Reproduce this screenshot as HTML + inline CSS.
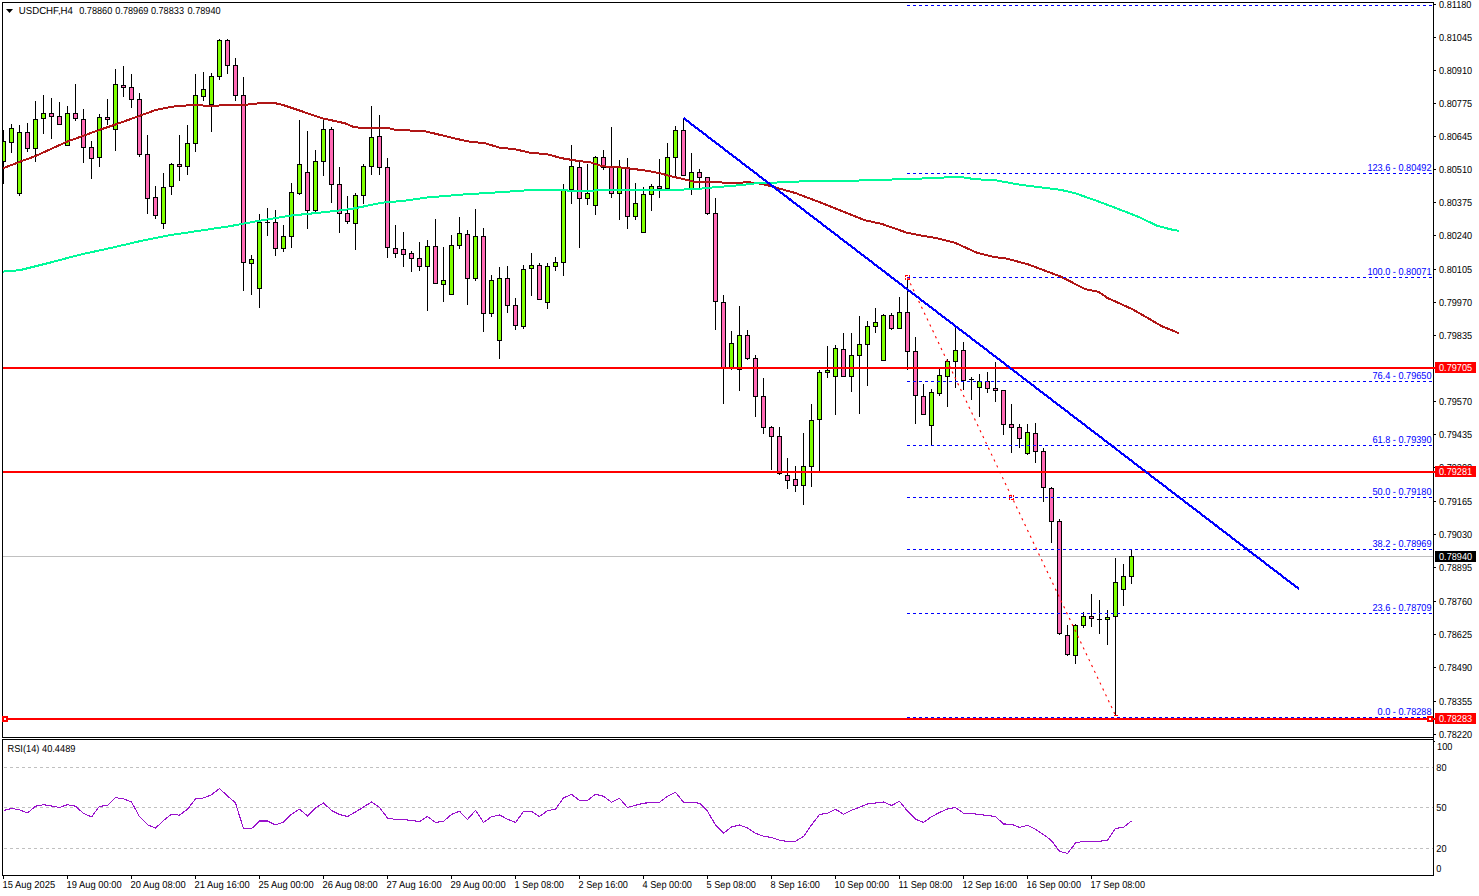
<!DOCTYPE html><html><head><meta charset="utf-8"><title>USDCHF H4</title>
<style>html,body{margin:0;padding:0;background:#fff;}body{width:1479px;height:896px;overflow:hidden;position:relative;font-family:"Liberation Sans",sans-serif;}svg{position:absolute;left:0;top:0;}text{text-rendering:geometricPrecision;font-family:"Liberation Sans",sans-serif;font-size:10.17px;}</style></head><body>
<svg width="1479" height="896" viewBox="0 0 1479 896">
<rect x="0" y="0" width="1479" height="896" fill="#fff"/>
<defs><clipPath id="c"><rect x="3" y="3" width="1430" height="734"/></clipPath></defs>
<g shape-rendering="crispEdges">
<rect x="3" y="556" width="1430" height="1" fill="#c0c0c0"/>
</g>
<g clip-path="url(#c)">
<g shape-rendering="crispEdges">
<rect x="3" y="130" width="1" height="54" fill="#000"/>
<rect x="1" y="141" width="5" height="21" fill="#000"/>
<rect x="2" y="142" width="3" height="19" fill="#7FFF00"/>
<rect x="11" y="124" width="1" height="29" fill="#000"/>
<rect x="9" y="128" width="5" height="15" fill="#000"/>
<rect x="10" y="129" width="3" height="13" fill="#7FFF00"/>
<rect x="19" y="125" width="1" height="71" fill="#000"/>
<rect x="17" y="132" width="5" height="62" fill="#000"/>
<rect x="18" y="133" width="3" height="60" fill="#7FFF00"/>
<rect x="27" y="123" width="1" height="29" fill="#000"/>
<rect x="25" y="132" width="5" height="17" fill="#000"/>
<rect x="26" y="133" width="3" height="15" fill="#FF69B4"/>
<rect x="35" y="101" width="1" height="61" fill="#000"/>
<rect x="33" y="119" width="5" height="30" fill="#000"/>
<rect x="34" y="120" width="3" height="28" fill="#7FFF00"/>
<rect x="43" y="95" width="1" height="39" fill="#000"/>
<rect x="41" y="113" width="5" height="6" fill="#000"/>
<rect x="42" y="114" width="3" height="4" fill="#7FFF00"/>
<rect x="51" y="98" width="1" height="41" fill="#000"/>
<rect x="49" y="113" width="5" height="4" fill="#000"/>
<rect x="50" y="114" width="3" height="2" fill="#FF69B4"/>
<rect x="59" y="102" width="1" height="23" fill="#000"/>
<rect x="57" y="116" width="5" height="9" fill="#000"/>
<rect x="58" y="117" width="3" height="7" fill="#FF69B4"/>
<rect x="67" y="106" width="1" height="40" fill="#000"/>
<rect x="65" y="113" width="5" height="33" fill="#000"/>
<rect x="66" y="114" width="3" height="31" fill="#7FFF00"/>
<rect x="75" y="84" width="1" height="37" fill="#000"/>
<rect x="73" y="113" width="5" height="6" fill="#000"/>
<rect x="74" y="114" width="3" height="4" fill="#FF69B4"/>
<rect x="83" y="109" width="1" height="54" fill="#000"/>
<rect x="81" y="119" width="5" height="29" fill="#000"/>
<rect x="82" y="120" width="3" height="27" fill="#FF69B4"/>
<rect x="91" y="141" width="1" height="38" fill="#000"/>
<rect x="89" y="147" width="5" height="12" fill="#000"/>
<rect x="90" y="148" width="3" height="10" fill="#FF69B4"/>
<rect x="99" y="114" width="1" height="53" fill="#000"/>
<rect x="97" y="117" width="5" height="41" fill="#000"/>
<rect x="98" y="118" width="3" height="39" fill="#7FFF00"/>
<rect x="107" y="99" width="1" height="26" fill="#000"/>
<rect x="105" y="117" width="5" height="3" fill="#000"/>
<rect x="106" y="118" width="3" height="1" fill="#FF69B4"/>
<rect x="115" y="69" width="1" height="82" fill="#000"/>
<rect x="113" y="84" width="5" height="46" fill="#000"/>
<rect x="114" y="85" width="3" height="44" fill="#7FFF00"/>
<rect x="123" y="66" width="1" height="31" fill="#000"/>
<rect x="121" y="85" width="5" height="3" fill="#000"/>
<rect x="122" y="86" width="3" height="1" fill="#FF69B4"/>
<rect x="131" y="74" width="1" height="34" fill="#000"/>
<rect x="129" y="87" width="5" height="13" fill="#000"/>
<rect x="130" y="88" width="3" height="11" fill="#FF69B4"/>
<rect x="139" y="93" width="1" height="64" fill="#000"/>
<rect x="137" y="99" width="5" height="56" fill="#000"/>
<rect x="138" y="100" width="3" height="54" fill="#FF69B4"/>
<rect x="147" y="135" width="1" height="79" fill="#000"/>
<rect x="145" y="154" width="5" height="45" fill="#000"/>
<rect x="146" y="155" width="3" height="43" fill="#FF69B4"/>
<rect x="155" y="186" width="1" height="33" fill="#000"/>
<rect x="153" y="197" width="5" height="19" fill="#000"/>
<rect x="154" y="198" width="3" height="17" fill="#FF69B4"/>
<rect x="163" y="173" width="1" height="56" fill="#000"/>
<rect x="161" y="187" width="5" height="37" fill="#000"/>
<rect x="162" y="188" width="3" height="35" fill="#7FFF00"/>
<rect x="171" y="163" width="1" height="32" fill="#000"/>
<rect x="169" y="164" width="5" height="23" fill="#000"/>
<rect x="170" y="165" width="3" height="21" fill="#7FFF00"/>
<rect x="179" y="135" width="1" height="46" fill="#000"/>
<rect x="177" y="164" width="5" height="3" fill="#000"/>
<rect x="178" y="165" width="3" height="1" fill="#FF69B4"/>
<rect x="187" y="125" width="1" height="50" fill="#000"/>
<rect x="185" y="143" width="5" height="24" fill="#000"/>
<rect x="186" y="144" width="3" height="22" fill="#7FFF00"/>
<rect x="195" y="74" width="1" height="78" fill="#000"/>
<rect x="193" y="95" width="5" height="49" fill="#000"/>
<rect x="194" y="96" width="3" height="47" fill="#7FFF00"/>
<rect x="203" y="72" width="1" height="29" fill="#000"/>
<rect x="201" y="89" width="5" height="8" fill="#000"/>
<rect x="202" y="90" width="3" height="6" fill="#7FFF00"/>
<rect x="211" y="73" width="1" height="59" fill="#000"/>
<rect x="209" y="76" width="5" height="29" fill="#000"/>
<rect x="210" y="77" width="3" height="27" fill="#7FFF00"/>
<rect x="219" y="39" width="1" height="41" fill="#000"/>
<rect x="217" y="40" width="5" height="37" fill="#000"/>
<rect x="218" y="41" width="3" height="35" fill="#7FFF00"/>
<rect x="227" y="39" width="1" height="35" fill="#000"/>
<rect x="225" y="40" width="5" height="26" fill="#000"/>
<rect x="226" y="41" width="3" height="24" fill="#FF69B4"/>
<rect x="235" y="58" width="1" height="43" fill="#000"/>
<rect x="233" y="65" width="5" height="31" fill="#000"/>
<rect x="234" y="66" width="3" height="29" fill="#FF69B4"/>
<rect x="243" y="77" width="1" height="214" fill="#000"/>
<rect x="241" y="95" width="5" height="168" fill="#000"/>
<rect x="242" y="96" width="3" height="166" fill="#FF69B4"/>
<rect x="251" y="255" width="1" height="40" fill="#000"/>
<rect x="249" y="259" width="5" height="5" fill="#000"/>
<rect x="250" y="260" width="3" height="3" fill="#7FFF00"/>
<rect x="259" y="214" width="1" height="94" fill="#000"/>
<rect x="257" y="222" width="5" height="67" fill="#000"/>
<rect x="258" y="223" width="3" height="65" fill="#7FFF00"/>
<rect x="267" y="208" width="1" height="28" fill="#000"/>
<rect x="265" y="222" width="5" height="1" fill="#000"/>
<rect x="275" y="210" width="1" height="46" fill="#000"/>
<rect x="273" y="222" width="5" height="27" fill="#000"/>
<rect x="274" y="223" width="3" height="25" fill="#FF69B4"/>
<rect x="283" y="225" width="1" height="27" fill="#000"/>
<rect x="281" y="236" width="5" height="13" fill="#000"/>
<rect x="282" y="237" width="3" height="11" fill="#7FFF00"/>
<rect x="291" y="183" width="1" height="65" fill="#000"/>
<rect x="289" y="192" width="5" height="45" fill="#000"/>
<rect x="290" y="193" width="3" height="43" fill="#7FFF00"/>
<rect x="299" y="120" width="1" height="75" fill="#000"/>
<rect x="297" y="164" width="5" height="30" fill="#000"/>
<rect x="298" y="165" width="3" height="28" fill="#7FFF00"/>
<rect x="307" y="131" width="1" height="98" fill="#000"/>
<rect x="305" y="172" width="5" height="39" fill="#000"/>
<rect x="306" y="173" width="3" height="37" fill="#FF69B4"/>
<rect x="315" y="150" width="1" height="62" fill="#000"/>
<rect x="313" y="161" width="5" height="50" fill="#000"/>
<rect x="314" y="162" width="3" height="48" fill="#7FFF00"/>
<rect x="323" y="120" width="1" height="56" fill="#000"/>
<rect x="321" y="129" width="5" height="33" fill="#000"/>
<rect x="322" y="130" width="3" height="31" fill="#7FFF00"/>
<rect x="331" y="127" width="1" height="76" fill="#000"/>
<rect x="329" y="129" width="5" height="56" fill="#000"/>
<rect x="330" y="130" width="3" height="54" fill="#FF69B4"/>
<rect x="339" y="167" width="1" height="66" fill="#000"/>
<rect x="337" y="184" width="5" height="30" fill="#000"/>
<rect x="338" y="185" width="3" height="28" fill="#FF69B4"/>
<rect x="347" y="196" width="1" height="28" fill="#000"/>
<rect x="345" y="213" width="5" height="9" fill="#000"/>
<rect x="346" y="214" width="3" height="7" fill="#FF69B4"/>
<rect x="355" y="193" width="1" height="57" fill="#000"/>
<rect x="353" y="195" width="5" height="29" fill="#000"/>
<rect x="354" y="196" width="3" height="27" fill="#7FFF00"/>
<rect x="363" y="164" width="1" height="40" fill="#000"/>
<rect x="361" y="166" width="5" height="30" fill="#000"/>
<rect x="362" y="167" width="3" height="28" fill="#7FFF00"/>
<rect x="371" y="106" width="1" height="69" fill="#000"/>
<rect x="369" y="137" width="5" height="30" fill="#000"/>
<rect x="370" y="138" width="3" height="28" fill="#7FFF00"/>
<rect x="379" y="115" width="1" height="60" fill="#000"/>
<rect x="377" y="136" width="5" height="32" fill="#000"/>
<rect x="378" y="137" width="3" height="30" fill="#FF69B4"/>
<rect x="387" y="158" width="1" height="100" fill="#000"/>
<rect x="385" y="167" width="5" height="81" fill="#000"/>
<rect x="386" y="168" width="3" height="79" fill="#FF69B4"/>
<rect x="395" y="225" width="1" height="33" fill="#000"/>
<rect x="393" y="248" width="5" height="6" fill="#000"/>
<rect x="394" y="249" width="3" height="4" fill="#FF69B4"/>
<rect x="403" y="232" width="1" height="35" fill="#000"/>
<rect x="401" y="249" width="5" height="6" fill="#000"/>
<rect x="402" y="250" width="3" height="4" fill="#FF69B4"/>
<rect x="411" y="251" width="1" height="21" fill="#000"/>
<rect x="409" y="253" width="5" height="6" fill="#000"/>
<rect x="410" y="254" width="3" height="4" fill="#FF69B4"/>
<rect x="419" y="242" width="1" height="29" fill="#000"/>
<rect x="417" y="258" width="5" height="9" fill="#000"/>
<rect x="418" y="259" width="3" height="7" fill="#FF69B4"/>
<rect x="427" y="240" width="1" height="71" fill="#000"/>
<rect x="425" y="246" width="5" height="21" fill="#000"/>
<rect x="426" y="247" width="3" height="19" fill="#7FFF00"/>
<rect x="435" y="219" width="1" height="65" fill="#000"/>
<rect x="433" y="246" width="5" height="38" fill="#000"/>
<rect x="434" y="247" width="3" height="36" fill="#FF69B4"/>
<rect x="443" y="247" width="1" height="55" fill="#000"/>
<rect x="441" y="280" width="5" height="5" fill="#000"/>
<rect x="442" y="281" width="3" height="3" fill="#7FFF00"/>
<rect x="451" y="235" width="1" height="60" fill="#000"/>
<rect x="449" y="245" width="5" height="50" fill="#000"/>
<rect x="450" y="246" width="3" height="48" fill="#7FFF00"/>
<rect x="459" y="217" width="1" height="32" fill="#000"/>
<rect x="457" y="233" width="5" height="13" fill="#000"/>
<rect x="458" y="234" width="3" height="11" fill="#7FFF00"/>
<rect x="467" y="230" width="1" height="75" fill="#000"/>
<rect x="465" y="234" width="5" height="45" fill="#000"/>
<rect x="466" y="235" width="3" height="43" fill="#FF69B4"/>
<rect x="475" y="209" width="1" height="72" fill="#000"/>
<rect x="473" y="236" width="5" height="43" fill="#000"/>
<rect x="474" y="237" width="3" height="41" fill="#7FFF00"/>
<rect x="483" y="228" width="1" height="104" fill="#000"/>
<rect x="481" y="236" width="5" height="78" fill="#000"/>
<rect x="482" y="237" width="3" height="76" fill="#FF69B4"/>
<rect x="491" y="275" width="1" height="42" fill="#000"/>
<rect x="489" y="280" width="5" height="34" fill="#000"/>
<rect x="490" y="281" width="3" height="32" fill="#7FFF00"/>
<rect x="499" y="267" width="1" height="92" fill="#000"/>
<rect x="497" y="278" width="5" height="63" fill="#000"/>
<rect x="498" y="279" width="3" height="61" fill="#7FFF00"/>
<rect x="507" y="266" width="1" height="47" fill="#000"/>
<rect x="505" y="278" width="5" height="28" fill="#000"/>
<rect x="506" y="279" width="3" height="26" fill="#FF69B4"/>
<rect x="515" y="298" width="1" height="32" fill="#000"/>
<rect x="513" y="305" width="5" height="21" fill="#000"/>
<rect x="514" y="306" width="3" height="19" fill="#FF69B4"/>
<rect x="523" y="265" width="1" height="64" fill="#000"/>
<rect x="521" y="269" width="5" height="58" fill="#000"/>
<rect x="522" y="270" width="3" height="56" fill="#7FFF00"/>
<rect x="531" y="253" width="1" height="43" fill="#000"/>
<rect x="529" y="265" width="5" height="4" fill="#000"/>
<rect x="530" y="266" width="3" height="2" fill="#7FFF00"/>
<rect x="539" y="263" width="1" height="37" fill="#000"/>
<rect x="537" y="265" width="5" height="35" fill="#000"/>
<rect x="538" y="266" width="3" height="33" fill="#FF69B4"/>
<rect x="547" y="263" width="1" height="46" fill="#000"/>
<rect x="545" y="266" width="5" height="37" fill="#000"/>
<rect x="546" y="267" width="3" height="35" fill="#7FFF00"/>
<rect x="555" y="257" width="1" height="14" fill="#000"/>
<rect x="553" y="262" width="5" height="5" fill="#000"/>
<rect x="554" y="263" width="3" height="3" fill="#7FFF00"/>
<rect x="563" y="184" width="1" height="92" fill="#000"/>
<rect x="561" y="189" width="5" height="74" fill="#000"/>
<rect x="562" y="190" width="3" height="72" fill="#7FFF00"/>
<rect x="571" y="145" width="1" height="59" fill="#000"/>
<rect x="569" y="166" width="5" height="24" fill="#000"/>
<rect x="570" y="167" width="3" height="22" fill="#7FFF00"/>
<rect x="579" y="162" width="1" height="86" fill="#000"/>
<rect x="577" y="167" width="5" height="32" fill="#000"/>
<rect x="578" y="168" width="3" height="30" fill="#FF69B4"/>
<rect x="587" y="164" width="1" height="41" fill="#000"/>
<rect x="585" y="193" width="5" height="6" fill="#000"/>
<rect x="586" y="194" width="3" height="4" fill="#7FFF00"/>
<rect x="595" y="156" width="1" height="59" fill="#000"/>
<rect x="593" y="157" width="5" height="49" fill="#000"/>
<rect x="594" y="158" width="3" height="47" fill="#7FFF00"/>
<rect x="603" y="150" width="1" height="20" fill="#000"/>
<rect x="601" y="157" width="5" height="11" fill="#000"/>
<rect x="602" y="158" width="3" height="9" fill="#FF69B4"/>
<rect x="611" y="127" width="1" height="71" fill="#000"/>
<rect x="609" y="167" width="5" height="27" fill="#000"/>
<rect x="610" y="168" width="3" height="25" fill="#FF69B4"/>
<rect x="619" y="160" width="1" height="60" fill="#000"/>
<rect x="617" y="167" width="5" height="27" fill="#000"/>
<rect x="618" y="168" width="3" height="25" fill="#7FFF00"/>
<rect x="627" y="158" width="1" height="71" fill="#000"/>
<rect x="625" y="167" width="5" height="50" fill="#000"/>
<rect x="626" y="168" width="3" height="48" fill="#FF69B4"/>
<rect x="635" y="183" width="1" height="37" fill="#000"/>
<rect x="633" y="203" width="5" height="14" fill="#000"/>
<rect x="634" y="204" width="3" height="12" fill="#7FFF00"/>
<rect x="643" y="187" width="1" height="46" fill="#000"/>
<rect x="641" y="194" width="5" height="39" fill="#000"/>
<rect x="642" y="195" width="3" height="37" fill="#7FFF00"/>
<rect x="651" y="184" width="1" height="27" fill="#000"/>
<rect x="649" y="186" width="5" height="9" fill="#000"/>
<rect x="650" y="187" width="3" height="7" fill="#7FFF00"/>
<rect x="659" y="159" width="1" height="39" fill="#000"/>
<rect x="657" y="186" width="5" height="3" fill="#000"/>
<rect x="658" y="187" width="3" height="1" fill="#FF69B4"/>
<rect x="667" y="143" width="1" height="46" fill="#000"/>
<rect x="665" y="157" width="5" height="32" fill="#000"/>
<rect x="666" y="158" width="3" height="30" fill="#7FFF00"/>
<rect x="675" y="126" width="1" height="50" fill="#000"/>
<rect x="673" y="130" width="5" height="28" fill="#000"/>
<rect x="674" y="131" width="3" height="26" fill="#7FFF00"/>
<rect x="683" y="118" width="1" height="58" fill="#000"/>
<rect x="681" y="130" width="5" height="46" fill="#000"/>
<rect x="682" y="131" width="3" height="44" fill="#FF69B4"/>
<rect x="691" y="153" width="1" height="42" fill="#000"/>
<rect x="689" y="172" width="5" height="17" fill="#000"/>
<rect x="690" y="173" width="3" height="15" fill="#7FFF00"/>
<rect x="699" y="169" width="1" height="19" fill="#000"/>
<rect x="697" y="172" width="5" height="6" fill="#000"/>
<rect x="698" y="173" width="3" height="4" fill="#FF69B4"/>
<rect x="707" y="177" width="1" height="38" fill="#000"/>
<rect x="705" y="177" width="5" height="37" fill="#000"/>
<rect x="706" y="178" width="3" height="35" fill="#FF69B4"/>
<rect x="715" y="198" width="1" height="132" fill="#000"/>
<rect x="713" y="213" width="5" height="89" fill="#000"/>
<rect x="714" y="214" width="3" height="87" fill="#FF69B4"/>
<rect x="723" y="295" width="1" height="109" fill="#000"/>
<rect x="721" y="302" width="5" height="66" fill="#000"/>
<rect x="722" y="303" width="3" height="64" fill="#FF69B4"/>
<rect x="731" y="331" width="1" height="39" fill="#000"/>
<rect x="729" y="343" width="5" height="25" fill="#000"/>
<rect x="730" y="344" width="3" height="23" fill="#7FFF00"/>
<rect x="739" y="306" width="1" height="85" fill="#000"/>
<rect x="737" y="335" width="5" height="35" fill="#000"/>
<rect x="738" y="336" width="3" height="33" fill="#7FFF00"/>
<rect x="747" y="330" width="1" height="30" fill="#000"/>
<rect x="745" y="335" width="5" height="24" fill="#000"/>
<rect x="746" y="336" width="3" height="22" fill="#FF69B4"/>
<rect x="755" y="355" width="1" height="62" fill="#000"/>
<rect x="753" y="358" width="5" height="39" fill="#000"/>
<rect x="754" y="359" width="3" height="37" fill="#FF69B4"/>
<rect x="763" y="378" width="1" height="56" fill="#000"/>
<rect x="761" y="396" width="5" height="32" fill="#000"/>
<rect x="762" y="397" width="3" height="30" fill="#FF69B4"/>
<rect x="771" y="426" width="1" height="44" fill="#000"/>
<rect x="769" y="427" width="5" height="10" fill="#000"/>
<rect x="770" y="428" width="3" height="8" fill="#FF69B4"/>
<rect x="779" y="427" width="1" height="48" fill="#000"/>
<rect x="777" y="436" width="5" height="38" fill="#000"/>
<rect x="778" y="437" width="3" height="36" fill="#FF69B4"/>
<rect x="787" y="458" width="1" height="31" fill="#000"/>
<rect x="785" y="475" width="5" height="6" fill="#000"/>
<rect x="786" y="476" width="3" height="4" fill="#FF69B4"/>
<rect x="795" y="466" width="1" height="26" fill="#000"/>
<rect x="793" y="479" width="5" height="7" fill="#000"/>
<rect x="794" y="480" width="3" height="5" fill="#FF69B4"/>
<rect x="803" y="433" width="1" height="72" fill="#000"/>
<rect x="801" y="466" width="5" height="20" fill="#000"/>
<rect x="802" y="467" width="3" height="18" fill="#7FFF00"/>
<rect x="811" y="404" width="1" height="83" fill="#000"/>
<rect x="809" y="420" width="5" height="47" fill="#000"/>
<rect x="810" y="421" width="3" height="45" fill="#7FFF00"/>
<rect x="819" y="370" width="1" height="102" fill="#000"/>
<rect x="817" y="372" width="5" height="48" fill="#000"/>
<rect x="818" y="373" width="3" height="46" fill="#7FFF00"/>
<rect x="827" y="346" width="1" height="32" fill="#000"/>
<rect x="825" y="370" width="5" height="3" fill="#000"/>
<rect x="826" y="371" width="3" height="1" fill="#7FFF00"/>
<rect x="835" y="345" width="1" height="70" fill="#000"/>
<rect x="833" y="348" width="5" height="29" fill="#000"/>
<rect x="834" y="349" width="3" height="27" fill="#7FFF00"/>
<rect x="843" y="333" width="1" height="44" fill="#000"/>
<rect x="841" y="349" width="5" height="28" fill="#000"/>
<rect x="842" y="350" width="3" height="26" fill="#FF69B4"/>
<rect x="851" y="333" width="1" height="59" fill="#000"/>
<rect x="849" y="355" width="5" height="22" fill="#000"/>
<rect x="850" y="356" width="3" height="20" fill="#7FFF00"/>
<rect x="859" y="316" width="1" height="98" fill="#000"/>
<rect x="857" y="344" width="5" height="12" fill="#000"/>
<rect x="858" y="345" width="3" height="10" fill="#7FFF00"/>
<rect x="867" y="321" width="1" height="65" fill="#000"/>
<rect x="865" y="326" width="5" height="19" fill="#000"/>
<rect x="866" y="327" width="3" height="17" fill="#7FFF00"/>
<rect x="875" y="308" width="1" height="25" fill="#000"/>
<rect x="873" y="322" width="5" height="5" fill="#000"/>
<rect x="874" y="323" width="3" height="3" fill="#7FFF00"/>
<rect x="883" y="314" width="1" height="47" fill="#000"/>
<rect x="881" y="315" width="5" height="46" fill="#000"/>
<rect x="882" y="316" width="3" height="44" fill="#7FFF00"/>
<rect x="891" y="313" width="1" height="17" fill="#000"/>
<rect x="889" y="315" width="5" height="14" fill="#000"/>
<rect x="890" y="316" width="3" height="12" fill="#FF69B4"/>
<rect x="899" y="297" width="1" height="32" fill="#000"/>
<rect x="897" y="312" width="5" height="17" fill="#000"/>
<rect x="898" y="313" width="3" height="15" fill="#7FFF00"/>
<rect x="907" y="279" width="1" height="91" fill="#000"/>
<rect x="905" y="312" width="5" height="40" fill="#000"/>
<rect x="906" y="313" width="3" height="38" fill="#FF69B4"/>
<rect x="915" y="337" width="1" height="87" fill="#000"/>
<rect x="913" y="351" width="5" height="45" fill="#000"/>
<rect x="914" y="352" width="3" height="43" fill="#FF69B4"/>
<rect x="923" y="384" width="1" height="31" fill="#000"/>
<rect x="921" y="396" width="5" height="19" fill="#000"/>
<rect x="922" y="397" width="3" height="17" fill="#FF69B4"/>
<rect x="931" y="389" width="1" height="57" fill="#000"/>
<rect x="929" y="392" width="5" height="34" fill="#000"/>
<rect x="930" y="393" width="3" height="32" fill="#7FFF00"/>
<rect x="939" y="369" width="1" height="27" fill="#000"/>
<rect x="937" y="375" width="5" height="19" fill="#000"/>
<rect x="938" y="376" width="3" height="17" fill="#7FFF00"/>
<rect x="947" y="359" width="1" height="48" fill="#000"/>
<rect x="945" y="361" width="5" height="16" fill="#000"/>
<rect x="946" y="362" width="3" height="14" fill="#7FFF00"/>
<rect x="955" y="327" width="1" height="61" fill="#000"/>
<rect x="953" y="350" width="5" height="12" fill="#000"/>
<rect x="954" y="351" width="3" height="10" fill="#7FFF00"/>
<rect x="963" y="342" width="1" height="48" fill="#000"/>
<rect x="961" y="350" width="5" height="31" fill="#000"/>
<rect x="962" y="351" width="3" height="29" fill="#FF69B4"/>
<rect x="971" y="377" width="1" height="23" fill="#000"/>
<rect x="969" y="379" width="5" height="1" fill="#000"/>
<rect x="979" y="374" width="1" height="43" fill="#000"/>
<rect x="977" y="381" width="5" height="7" fill="#000"/>
<rect x="978" y="382" width="3" height="5" fill="#7FFF00"/>
<rect x="987" y="372" width="1" height="21" fill="#000"/>
<rect x="985" y="381" width="5" height="8" fill="#000"/>
<rect x="986" y="382" width="3" height="6" fill="#FF69B4"/>
<rect x="995" y="362" width="1" height="40" fill="#000"/>
<rect x="993" y="388" width="5" height="3" fill="#000"/>
<rect x="994" y="389" width="3" height="1" fill="#FF69B4"/>
<rect x="1003" y="390" width="1" height="45" fill="#000"/>
<rect x="1001" y="390" width="5" height="35" fill="#000"/>
<rect x="1002" y="391" width="3" height="33" fill="#FF69B4"/>
<rect x="1011" y="404" width="1" height="49" fill="#000"/>
<rect x="1009" y="424" width="5" height="4" fill="#000"/>
<rect x="1010" y="425" width="3" height="2" fill="#FF69B4"/>
<rect x="1019" y="424" width="1" height="24" fill="#000"/>
<rect x="1017" y="427" width="5" height="12" fill="#000"/>
<rect x="1018" y="428" width="3" height="10" fill="#FF69B4"/>
<rect x="1027" y="424" width="1" height="31" fill="#000"/>
<rect x="1025" y="432" width="5" height="22" fill="#000"/>
<rect x="1026" y="433" width="3" height="20" fill="#7FFF00"/>
<rect x="1035" y="423" width="1" height="40" fill="#000"/>
<rect x="1033" y="433" width="5" height="19" fill="#000"/>
<rect x="1034" y="434" width="3" height="17" fill="#FF69B4"/>
<rect x="1043" y="448" width="1" height="54" fill="#000"/>
<rect x="1041" y="451" width="5" height="37" fill="#000"/>
<rect x="1042" y="452" width="3" height="35" fill="#FF69B4"/>
<rect x="1051" y="487" width="1" height="56" fill="#000"/>
<rect x="1049" y="488" width="5" height="34" fill="#000"/>
<rect x="1050" y="489" width="3" height="32" fill="#FF69B4"/>
<rect x="1059" y="519" width="1" height="116" fill="#000"/>
<rect x="1057" y="521" width="5" height="113" fill="#000"/>
<rect x="1058" y="522" width="3" height="111" fill="#FF69B4"/>
<rect x="1067" y="625" width="1" height="31" fill="#000"/>
<rect x="1065" y="635" width="5" height="20" fill="#000"/>
<rect x="1066" y="636" width="3" height="18" fill="#FF69B4"/>
<rect x="1075" y="624" width="1" height="40" fill="#000"/>
<rect x="1073" y="625" width="5" height="31" fill="#000"/>
<rect x="1074" y="626" width="3" height="29" fill="#7FFF00"/>
<rect x="1083" y="612" width="1" height="16" fill="#000"/>
<rect x="1081" y="616" width="5" height="10" fill="#000"/>
<rect x="1082" y="617" width="3" height="8" fill="#7FFF00"/>
<rect x="1091" y="594" width="1" height="33" fill="#000"/>
<rect x="1089" y="616" width="5" height="3" fill="#000"/>
<rect x="1090" y="617" width="3" height="1" fill="#FF69B4"/>
<rect x="1099" y="600" width="1" height="34" fill="#000"/>
<rect x="1097" y="619" width="5" height="1" fill="#000"/>
<rect x="1107" y="610" width="1" height="35" fill="#000"/>
<rect x="1105" y="617" width="5" height="3" fill="#000"/>
<rect x="1106" y="618" width="3" height="1" fill="#7FFF00"/>
<rect x="1115" y="558" width="1" height="157" fill="#000"/>
<rect x="1113" y="582" width="5" height="35" fill="#000"/>
<rect x="1114" y="583" width="3" height="33" fill="#7FFF00"/>
<rect x="1123" y="564" width="1" height="42" fill="#000"/>
<rect x="1121" y="576" width="5" height="14" fill="#000"/>
<rect x="1122" y="577" width="3" height="12" fill="#7FFF00"/>
<rect x="1131" y="549" width="1" height="35" fill="#000"/>
<rect x="1129" y="556" width="5" height="21" fill="#000"/>
<rect x="1130" y="557" width="3" height="19" fill="#7FFF00"/>
</g>
<polyline fill="none" shape-rendering="crispEdges" stroke="#B01616" stroke-width="2" stroke-linejoin="round" points="2,168.7 20,161.7 35,156.2 67,141.7 100,129.7 115,124.7 140,115.7 155,110.2 172,106.7 195,104.7 205,105.7 242,105.2 260,103.2 275,103.2 282,104.7 300,110.7 322,118.2 345,123.25 354,127.25 370,128.25 387,127.75 395,129.75 425,131.25 450,137.25 467,141.25 485,143.25 500,147.75 515,149.25 530,152.75 547,154.25 562,158.25 580,161.25 590,162.25 602,166.25 625,167.75 650,171.25 660,173.25 671,176.25 684,179.25 696,182.25 721,182.25 725,183.25 740,182.75 746,182.25 756,182.75 770,185.85 796,193.25 825,204.25 835,208.25 865,220.25 882,224 907,232.75 925,236.25 935,237.75 955,242.75 977,252.75 995,257.25 1005,258.25 1027,264 1060,276.25 1085,289 1099,292 1107,297.75 1132,309 1162,326.25 1179,333.25"/>
<polyline fill="none" shape-rendering="crispEdges" stroke="#00FA9A" stroke-width="2" stroke-linejoin="round" points="2,271.65 20,270.15 50,262.65 80,254.65 110,248.15 140,241.15 170,235.15 200,230.65 230,226.15 260,220.65 290,215.65 320,212.65 350,209.2 365,206.2 382,202.7 405,200.7 425,197.7 460,194.7 500,192.2 535,189.7 555,190.2 575,190.7 625,190.2 675,190 700,188.7 715,187.2 740,185.2 756,183.2 787,182.2 805,181.2 825,181.2 875,180.2 900,179.2 932,178.2 950,177.2 962,177.2 975,179.2 995,180.2 1020,184.7 1040,187.2 1060,189.7 1075,193.2 1097,200.95 1115,207.7 1137,216.2 1157,225.7 1170,229.2 1179,230.95"/>
<g shape-rendering="crispEdges">
<rect x="3" y="367" width="1430" height="2" fill="#f00"/>
<rect x="3" y="471" width="1430" height="2" fill="#f00"/>
<rect x="3" y="718" width="1430" height="2" fill="#f00"/>
</g>
<g shape-rendering="crispEdges" stroke="#00f" stroke-width="1" stroke-dasharray="3,3">
<line x1="907" y1="5.5" x2="1433" y2="5.5"/>
<line x1="907" y1="173.5" x2="1433" y2="173.5"/>
<line x1="907" y1="277.5" x2="1433" y2="277.5"/>
<line x1="907" y1="381.5" x2="1433" y2="381.5"/>
<line x1="907" y1="445.5" x2="1433" y2="445.5"/>
<line x1="907" y1="497.5" x2="1433" y2="497.5"/>
<line x1="907" y1="549.5" x2="1433" y2="549.5"/>
<line x1="907" y1="613.5" x2="1433" y2="613.5"/>
<line x1="907" y1="717.5" x2="1433" y2="717.5"/>
</g>
<line x1="907.5" y1="277.5" x2="1116.5" y2="717.5" stroke="#f00" stroke-width="1.1" stroke-dasharray="2.2,4.3"/>
<rect x="905.5" y="275.5" width="4" height="4" fill="none" stroke="#f00" stroke-width="1" stroke-dasharray="2,1" shape-rendering="crispEdges"/>
<rect x="1009.5" y="495.5" width="4" height="4" fill="none" stroke="#f00" stroke-width="1" stroke-dasharray="2,1" shape-rendering="crispEdges"/>
<rect x="1114" y="715" width="4" height="1" fill="#f00" shape-rendering="crispEdges"/>
<line x1="683.5" y1="118" x2="1299" y2="589" stroke="#00f" stroke-width="2.2" shape-rendering="crispEdges"/>
</g>
<text transform="translate(1431.5,171) scale(0.901,1)" text-anchor="end" fill="#00f">123.6 - 0.80492</text>
<text transform="translate(1431.5,275) scale(0.901,1)" text-anchor="end" fill="#00f">100.0 - 0.80071</text>
<text transform="translate(1431.5,379) scale(0.901,1)" text-anchor="end" fill="#00f">76.4 - 0.79650</text>
<text transform="translate(1431.5,443) scale(0.901,1)" text-anchor="end" fill="#00f">61.8 - 0.79390</text>
<text transform="translate(1431.5,495) scale(0.901,1)" text-anchor="end" fill="#00f">50.0 - 0.79180</text>
<text transform="translate(1431.5,547) scale(0.901,1)" text-anchor="end" fill="#00f">38.2 - 0.78969</text>
<text transform="translate(1431.5,611) scale(0.901,1)" text-anchor="end" fill="#00f">23.6 - 0.78709</text>
<text transform="translate(1431.5,715) scale(0.901,1)" text-anchor="end" fill="#00f">0.0 - 0.78288</text>
<g shape-rendering="crispEdges" fill="#000">
<rect x="2" y="2" width="1432" height="1"/>
<rect x="2" y="2" width="1" height="736"/>
<rect x="2" y="737" width="1432" height="1"/>
<rect x="1433" y="2" width="1" height="874"/>
<rect x="2" y="739" width="1432" height="1"/>
<rect x="2" y="739" width="1" height="137"/>
<rect x="2" y="875" width="1432" height="1"/>
<rect x="1434" y="4" width="2" height="1"/>
<rect x="1434" y="37" width="2" height="1"/>
<rect x="1434" y="70" width="2" height="1"/>
<rect x="1434" y="103" width="2" height="1"/>
<rect x="1434" y="136" width="2" height="1"/>
<rect x="1434" y="169" width="2" height="1"/>
<rect x="1434" y="202" width="2" height="1"/>
<rect x="1434" y="235" width="2" height="1"/>
<rect x="1434" y="269" width="2" height="1"/>
<rect x="1434" y="302" width="2" height="1"/>
<rect x="1434" y="335" width="2" height="1"/>
<rect x="1434" y="401" width="2" height="1"/>
<rect x="1434" y="434" width="2" height="1"/>
<rect x="1434" y="467" width="2" height="1"/>
<rect x="1434" y="501" width="2" height="1"/>
<rect x="1434" y="534" width="2" height="1"/>
<rect x="1434" y="567" width="2" height="1"/>
<rect x="1434" y="601" width="2" height="1"/>
<rect x="1434" y="634" width="2" height="1"/>
<rect x="1434" y="667" width="2" height="1"/>
<rect x="1434" y="701" width="2" height="1"/>
<rect x="1434" y="734" width="2" height="1"/>
<rect x="1434" y="741" width="1" height="1"/>
<rect x="3" y="876" width="1" height="3"/>
<rect x="67" y="876" width="1" height="3"/>
<rect x="131" y="876" width="1" height="3"/>
<rect x="195" y="876" width="1" height="3"/>
<rect x="259" y="876" width="1" height="3"/>
<rect x="323" y="876" width="1" height="3"/>
<rect x="387" y="876" width="1" height="3"/>
<rect x="451" y="876" width="1" height="3"/>
<rect x="515" y="876" width="1" height="3"/>
<rect x="579" y="876" width="1" height="3"/>
<rect x="643" y="876" width="1" height="3"/>
<rect x="707" y="876" width="1" height="3"/>
<rect x="771" y="876" width="1" height="3"/>
<rect x="835" y="876" width="1" height="3"/>
<rect x="899" y="876" width="1" height="3"/>
<rect x="963" y="876" width="1" height="3"/>
<rect x="1027" y="876" width="1" height="3"/>
<rect x="1091" y="876" width="1" height="3"/>
</g>
<text transform="translate(1439,8) scale(0.901,1)" fill="#000">0.81180</text>
<text transform="translate(1439,41) scale(0.901,1)" fill="#000">0.81045</text>
<text transform="translate(1439,74) scale(0.901,1)" fill="#000">0.80910</text>
<text transform="translate(1439,107) scale(0.901,1)" fill="#000">0.80775</text>
<text transform="translate(1439,140) scale(0.901,1)" fill="#000">0.80645</text>
<text transform="translate(1439,173) scale(0.901,1)" fill="#000">0.80510</text>
<text transform="translate(1439,206) scale(0.901,1)" fill="#000">0.80375</text>
<text transform="translate(1439,239) scale(0.901,1)" fill="#000">0.80240</text>
<text transform="translate(1439,273) scale(0.901,1)" fill="#000">0.80105</text>
<text transform="translate(1439,306) scale(0.901,1)" fill="#000">0.79970</text>
<text transform="translate(1439,339) scale(0.901,1)" fill="#000">0.79835</text>
<text transform="translate(1439,405) scale(0.901,1)" fill="#000">0.79570</text>
<text transform="translate(1439,438) scale(0.901,1)" fill="#000">0.79435</text>
<text transform="translate(1439,471) scale(0.901,1)" fill="#000">0.79300</text>
<text transform="translate(1439,505) scale(0.901,1)" fill="#000">0.79165</text>
<text transform="translate(1439,538) scale(0.901,1)" fill="#000">0.79030</text>
<text transform="translate(1439,571) scale(0.901,1)" fill="#000">0.78895</text>
<text transform="translate(1439,605) scale(0.901,1)" fill="#000">0.78760</text>
<text transform="translate(1439,638) scale(0.901,1)" fill="#000">0.78625</text>
<text transform="translate(1439,671) scale(0.901,1)" fill="#000">0.78490</text>
<text transform="translate(1439,705) scale(0.901,1)" fill="#000">0.78355</text>
<text transform="translate(1439,738) scale(0.901,1)" fill="#000">0.78220</text>
<rect x="1432" y="367" width="3" height="2" fill="#f00" shape-rendering="crispEdges"/>
<rect x="1432" y="471" width="3" height="2" fill="#f00" shape-rendering="crispEdges"/>
<rect x="1432" y="718" width="3" height="2" fill="#f00" shape-rendering="crispEdges"/>
<g shape-rendering="crispEdges">
<rect x="1435" y="362" width="41" height="11" fill="#f00"/>
<rect x="1435" y="466" width="41" height="11" fill="#f00"/>
<rect x="1435" y="551" width="41" height="11" fill="#000"/>
<rect x="1435" y="713" width="41" height="11" fill="#f00"/>
</g>
<text transform="translate(1439,371) scale(0.901,1)" fill="#fff">0.79705</text>
<text transform="translate(1439,475) scale(0.901,1)" fill="#fff">0.79281</text>
<text transform="translate(1439,560) scale(0.901,1)" fill="#fff">0.78940</text>
<text transform="translate(1439,722) scale(0.901,1)" fill="#fff">0.78283</text>
<g shape-rendering="crispEdges">
<rect x="2" y="716" width="6" height="6" fill="#f00"/><rect x="4" y="718" width="2" height="2" fill="#fff"/>
<rect x="1427" y="716" width="6" height="6" fill="#f00"/><rect x="1429" y="718" width="2" height="2" fill="#fff"/>
</g>
<g shape-rendering="crispEdges" stroke="#c0c0c0" stroke-width="1" stroke-dasharray="3,3">
<line x1="4" y1="767.5" x2="1433" y2="767.5"/>
<line x1="4" y1="807.5" x2="1433" y2="807.5"/>
<line x1="4" y1="848.5" x2="1433" y2="848.5"/>
</g>
<polyline fill="none" shape-rendering="crispEdges" stroke="#9911CC" stroke-width="1.1" stroke-linejoin="round" points="3.5,810.45 11.5,808.45 19.5,809.7 27.5,812.95 35.5,806.2 43.5,804.7 51.5,805.95 59.5,807.45 67.5,804.7 75.5,806.2 83.5,813.45 91.5,816.95 99.5,806.2 107.5,805.7 115.5,797.7 123.5,798.7 131.5,801.95 139.5,816.7 147.5,824.7 155.5,828.2 163.5,820.45 171.5,814.2 179.5,815.2 187.5,809.2 195.5,798.95 203.5,797.95 211.5,794.7 219.5,788.7 227.5,795.95 235.5,802.95 243.5,828.7 251.5,828.7 259.5,820.95 267.5,820.95 275.5,824.95 283.5,822.2 291.5,814.2 299.5,809.2 307.5,815.95 315.5,807.95 323.5,802.95 331.5,810.5 339.5,814.5 347.5,816.5 355.5,812 363.5,807 371.5,802 379.5,807.5 387.5,818 395.5,819.5 403.5,819.5 411.5,820.5 419.5,821.5 427.5,816.5 435.5,822.5 443.5,821.25 451.5,814.5 459.5,811.25 467.5,819.5 475.5,810.25 483.5,822.5 491.5,816.75 499.5,815 507.5,819.25 515.5,822.5 523.5,811.5 531.5,811.5 539.5,816.5 547.5,810.75 555.5,809 563.5,798 571.5,794.25 579.5,800.5 587.5,800.5 595.5,794.25 603.5,796.25 611.5,802.25 619.5,798.25 627.5,807.5 635.5,805.25 643.5,803.25 651.5,802.5 659.5,802.25 667.5,796.25 675.5,792.25 683.5,802.25 691.5,802.25 699.5,803.25 707.5,811.25 715.5,825 723.5,833.25 731.5,827 739.5,825 747.5,828 755.5,833.25 763.5,836.25 771.5,837.5 779.5,840.25 787.5,841.5 795.5,841.25 803.5,836.5 811.5,825 819.5,814.5 827.5,813.25 835.5,809.25 843.5,814.25 851.5,810.25 859.5,807.25 867.5,804 875.5,803 883.5,802 891.5,805.5 899.5,801.25 907.5,811.25 915.5,819.25 923.5,822.5 931.5,816.75 939.5,812.5 947.5,809 955.5,807.5 963.5,813.25 971.5,813.5 979.5,814.5 987.5,815.5 995.5,816.5 1003.5,824 1011.5,824.25 1019.5,827.5 1027.5,825.25 1035.5,829.25 1043.5,834.5 1051.5,840.6 1059.5,851.25 1067.5,853.5 1075.5,843 1083.5,841.25 1091.5,841.25 1099.5,841.25 1107.5,840.25 1115.5,828.4 1123.5,827.25 1131.5,821"/>
<text transform="translate(1437.1,750) scale(0.901,1)" fill="#000">100</text>
<text transform="translate(1436.3,771) scale(0.901,1)" fill="#000">80</text>
<text transform="translate(1436.3,811) scale(0.901,1)" fill="#000">50</text>
<text transform="translate(1436.3,852) scale(0.901,1)" fill="#000">20</text>
<text transform="translate(1436.3,872) scale(0.901,1)" fill="#000">0</text>
<text transform="translate(7.5,752) scale(0.912,1)" fill="#000">RSI(14) 40.4489</text>
<text transform="translate(2.6,888) scale(0.921,1)" fill="#000">15 Aug 2025</text>
<text transform="translate(66.6,888) scale(0.921,1)" fill="#000">19 Aug 00:00</text>
<text transform="translate(130.6,888) scale(0.921,1)" fill="#000">20 Aug 08:00</text>
<text transform="translate(194.6,888) scale(0.921,1)" fill="#000">21 Aug 16:00</text>
<text transform="translate(258.6,888) scale(0.921,1)" fill="#000">25 Aug 00:00</text>
<text transform="translate(322.6,888) scale(0.921,1)" fill="#000">26 Aug 08:00</text>
<text transform="translate(386.6,888) scale(0.921,1)" fill="#000">27 Aug 16:00</text>
<text transform="translate(450.6,888) scale(0.921,1)" fill="#000">29 Aug 00:00</text>
<text transform="translate(514.6,888) scale(0.901,1)" fill="#000">1 Sep 08:00</text>
<text transform="translate(578.6,888) scale(0.901,1)" fill="#000">2 Sep 16:00</text>
<text transform="translate(642.6,888) scale(0.901,1)" fill="#000">4 Sep 00:00</text>
<text transform="translate(706.6,888) scale(0.901,1)" fill="#000">5 Sep 08:00</text>
<text transform="translate(770.6,888) scale(0.901,1)" fill="#000">8 Sep 16:00</text>
<text transform="translate(834.6,888) scale(0.901,1)" fill="#000">10 Sep 00:00</text>
<text transform="translate(898.6,888) scale(0.901,1)" fill="#000">11 Sep 08:00</text>
<text transform="translate(962.6,888) scale(0.901,1)" fill="#000">12 Sep 16:00</text>
<text transform="translate(1026.6,888) scale(0.901,1)" fill="#000">16 Sep 00:00</text>
<text transform="translate(1090.6,888) scale(0.901,1)" fill="#000">17 Sep 08:00</text>
<polygon points="6,9 13,9 9.5,13" fill="#000"/>
<text transform="translate(18.8,14) scale(0.9491,1)" fill="#000">USDCHF,H4</text>
<text transform="translate(79.2,14) scale(0.901,1)" fill="#000">0.78860</text>
<text transform="translate(115.3,14) scale(0.901,1)" fill="#000">0.78969</text>
<text transform="translate(150.9,14) scale(0.901,1)" fill="#000">0.78833</text>
<text transform="translate(187.5,14) scale(0.901,1)" fill="#000">0.78940</text>
</svg></body></html>
